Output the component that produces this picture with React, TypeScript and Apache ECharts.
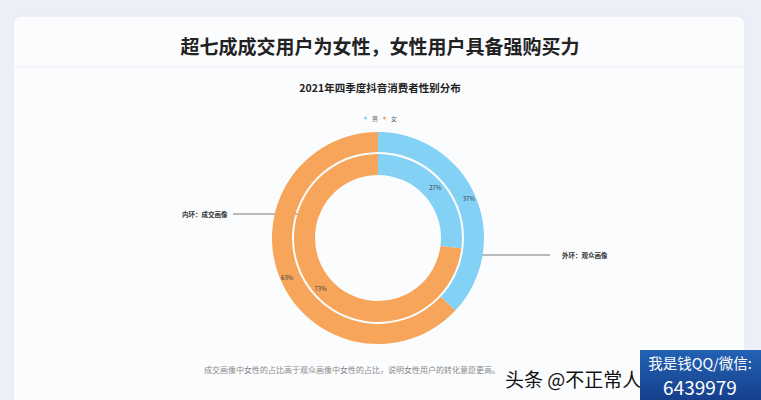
import React, { useEffect, useRef } from "react";
import * as echarts from "echarts";

const genders = ["男", "女"];
const innerValues = [27, 73]; // 内环：成交画像
const outerValues = [37, 63]; // 外环：观众画像
const colors = ["#84D1F6", "#F7A55B"];

const title = "超七成成交用户为女性，女性用户具备强购买力";
const subtitle = "2021年四季度抖音消费者性别分布";
const innerLabel = "内环：成交画像";
const outerLabel = "外环：观众画像";
const note = "成交画像中女性的占比高于观众画像中女性的占比，说明女性用户的转化意愿更高。";

export default function App() {
  const ref = useRef<HTMLDivElement>(null);
  useEffect(() => {
    if (!ref.current) return;
    const chart = echarts.init(ref.current, undefined, { renderer: "svg" });
    const cjk = '"Noto Sans CJK SC", sans-serif';
    const mk = (vals: number[]) => genders.map((g, i) => ({ name: g, value: vals[i] }));
    chart.setOption({
      animation: false,
      backgroundColor: "#ECEEF8",
      color: colors,
      legend: {
        data: genders,
        top: 110,
        left: "center",
        itemWidth: 3,
        itemHeight: 3,
        itemGap: 5,
        icon: "circle",
        textStyle: { fontSize: 6, color: "#666", fontFamily: cjk },
      },
      graphic: [
        { type: "rect", z: -10, shape: { x: 13, y: 16, width: 732, height: 400, r: 8 }, style: { fill: "#FBFCFE", stroke: "#E6E8F0", lineWidth: 1 } },
        { type: "line", z: -9, shape: { x1: 13, y1: 67, x2: 745, y2: 67 }, style: { stroke: "#EEF0F4", lineWidth: 1 } },
        { type: "text", x: 380, y: 45, style: { text: title, fontSize: 19, fontWeight: "bold", fill: "#222", fontFamily: cjk, align: "center", verticalAlign: "middle" } },
        { type: "text", x: 380, y: 87, style: { text: subtitle, fontSize: 10.5, fontWeight: "bold", fill: "#222", fontFamily: cjk, align: "center", verticalAlign: "middle" } },
        { type: "text", x: 182, y: 214, style: { text: innerLabel, fontSize: 6.5, fontWeight: "bold", fill: "#333", fontFamily: cjk, align: "left", verticalAlign: "middle" } },
        { type: "line", shape: { x1: 233, y1: 214, x2: 310, y2: 214 }, style: { stroke: "#555", lineWidth: 0.8 } },
        { type: "text", x: 562, y: 255, style: { text: outerLabel, fontSize: 6.5, fontWeight: "bold", fill: "#333", fontFamily: cjk, align: "left", verticalAlign: "middle" } },
        { type: "line", shape: { x1: 478, y1: 255, x2: 550, y2: 255 }, style: { stroke: "#555", lineWidth: 0.8 } },
        { type: "text", x: 352, y: 369, style: { text: note, fontSize: 8, fill: "#8A8A8A", fontFamily: cjk, align: "center", verticalAlign: "middle" } },
        { type: "text", x: 505, y: 378, z: 10, style: { text: "头条 @不正常人", fontSize: 19, fill: "#111", fontFamily: cjk, align: "left", verticalAlign: "middle" } },
        { type: "rect", z: 20, shape: { x: 640, y: 350, width: 121, height: 50 }, style: { fill: new echarts.graphic.LinearGradient(0, 0, 0, 1, [{ offset: 0, color: "#2362B4" }, { offset: 1, color: "#163F8C" }]) } },
        { type: "text", z: 21, x: 700, y: 362, style: { text: "我是钱QQ/微信:", fontSize: 14.5, fill: "#fff", fontFamily: cjk, align: "center", verticalAlign: "middle" } },
        { type: "text", z: 21, x: 700, y: 386, style: { text: "6439979", fontSize: 19, fill: "#fff", fontFamily: cjk, align: "center", verticalAlign: "middle" } },
      ],
      series: [
        {
          name: "成交画像",
          type: "pie",
          center: [378, 238],
          radius: [63, 84],
          startAngle: 90,
          data: mk(innerValues),
          label: { position: "inside", formatter: (p: any) => p.value + "%", fontSize: 6, color: "#3A3A3A", fontFamily: cjk },
          labelLine: { show: false },
          emphasis: { disabled: true },
        },
        {
          name: "观众画像",
          type: "pie",
          center: [378, 238],
          radius: [86, 106],
          startAngle: 90,
          data: mk(outerValues),
          label: { position: "inside", formatter: (p: any) => p.value + "%", fontSize: 6, color: "#3A3A3A", fontFamily: cjk },
          labelLine: { show: false },
          emphasis: { disabled: true },
        },
      ],
    });
    return () => chart.dispose();
  }, []);
  return <div ref={ref} style={{ position: "fixed", left: 0, top: 0, width: 761, height: 400 }} />;
}
